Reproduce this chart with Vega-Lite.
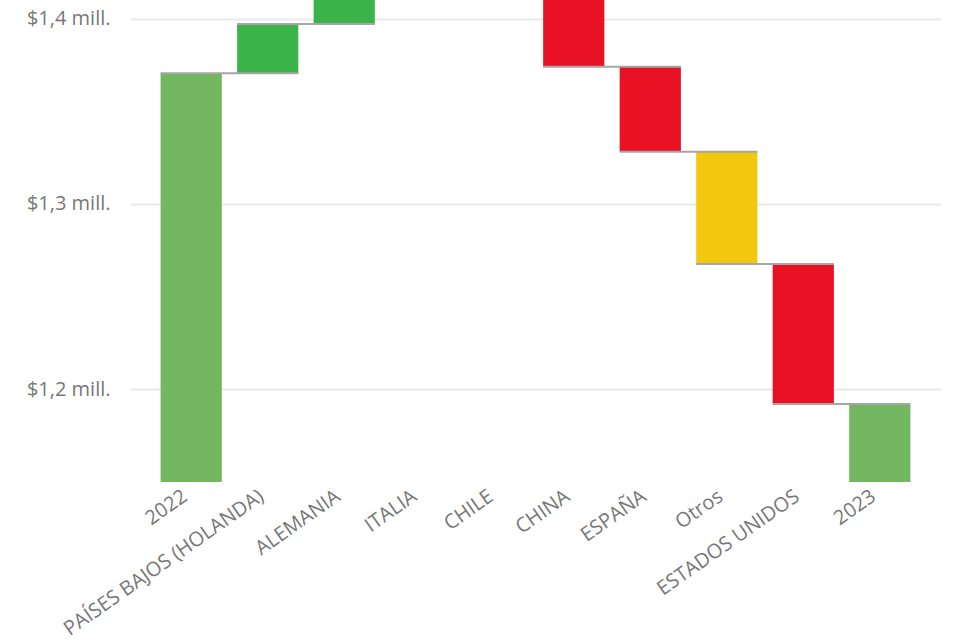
{
  "$schema": "https://vega.github.io/schema/vega-lite/v6.json",
  "width": 811,
  "height": 482,
  "autosize": {"type": "none"},
  "padding": {"left": 130, "top": 0, "right": 12, "bottom": 161},
  "background": "white",
  "config": {
    "view": {"stroke": null},
    "font": "Open Sans"
  },
  "data": {
    "values": [
      {"cat": "2022", "start": 0, "end": 1.3705, "type": "total", "next": "PAÍSES BAJOS (HOLANDA)"},
      {"cat": "PAÍSES BAJOS (HOLANDA)", "start": 1.3705, "end": 1.3971, "type": "up", "next": "ALEMANIA"},
      {"cat": "ALEMANIA", "start": 1.3971, "end": 1.43, "type": "up", "next": "ITALIA"},
      {"cat": "ITALIA", "start": 1.43, "end": 1.45, "type": "up", "next": "CHILE"},
      {"cat": "CHILE", "start": 1.45, "end": 1.44, "type": "down", "next": "CHINA"},
      {"cat": "CHINA", "start": 1.44, "end": 1.374, "type": "down", "next": "ESPAÑA"},
      {"cat": "ESPAÑA", "start": 1.374, "end": 1.3282, "type": "down", "next": "Otros"},
      {"cat": "Otros", "start": 1.3282, "end": 1.2676, "type": "other", "next": "ESTADOS UNIDOS"},
      {"cat": "ESTADOS UNIDOS", "start": 1.2676, "end": 1.1921, "type": "down", "next": "2023"},
      {"cat": "2023", "start": 0, "end": 1.1921, "type": "total", "next": null}
    ]
  },
  "encoding": {
    "x": {
      "field": "cat",
      "type": "nominal",
      "sort": null,
      "scale": {"paddingInner": 0.2, "paddingOuter": 0.4},
      "axis": {
        "title": null,
        "labelAngle": -35,
        "labelAlign": "right",
        "labelBaseline": "middle",
        "labelFontSize": 20,
        "labelColor": "#777777",
        "labelPadding": 12,
        "labelOffset": -6,
        "labelLimit": 0,
        "ticks": false,
        "domain": false,
        "grid": false
      }
    }
  },
  "layer": [
    {
      "mark": {"type": "bar", "clip": true},
      "encoding": {
        "y": {
          "field": "start",
          "type": "quantitative",
          "scale": {"domain": [1.15, 1.41], "nice": false, "zero": false},
          "axis": {
            "title": null,
            "values": [1.2, 1.3, 1.4],
            "labelExpr": "'$' + replace(format(datum.value, '.1f'), '.', ',') + ' mill.'",
            "labelFontSize": 20,
            "labelColor": "#777777",
            "labelPadding": 20,
            "labelLimit": 0,
            "ticks": false,
            "domain": false,
            "gridColor": "#e9e9e9",
            "gridWidth": 2
          }
        },
        "y2": {"field": "end"},
        "color": {
          "field": "type",
          "type": "nominal",
          "scale": {
            "domain": ["total", "up", "down", "other"],
            "range": ["#73B761", "#3BB44A", "#E81224", "#F2C80F"]
          },
          "legend": null
        }
      }
    },
    {
      "transform": [{"filter": "datum.next != null"}],
      "mark": {"type": "rule", "clip": true, "color": "#a6a6a6", "strokeWidth": 2},
      "encoding": {
        "x": {"field": "cat", "type": "nominal", "sort": null, "bandPosition": 0},
        "x2": {"field": "next", "bandPosition": 1},
        "y": {"field": "end", "type": "quantitative"}
      }
    }
  ]
}
